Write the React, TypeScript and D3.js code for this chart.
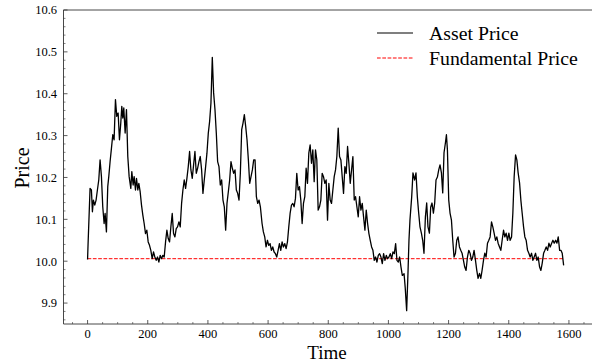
import React from 'react';
import * as d3 from 'd3';

const W = 592;
const H = 364;
const plot = { left: 63.5, right: 593, top: 10, bottom: 324 };

// Simulated market: sampled asset price against time
const time = [
  0, 1.7, 8.3, 12.8, 16.1, 19.4, 23.9, 28.3, 32.7, 37.2, 41.6, 46.1, 50.5, 55, 58.3, 62.7, 67.1, 70.5, 74.9, 79.4,
  83.8, 88.2, 92.7, 97.1, 101.6, 106, 110.4, 113.8, 117.1, 120.4, 124.9, 129.3, 133.7, 138.2, 143.7, 147.1, 151.5,
  154.8, 159.3, 162.6, 167.1, 170.4, 174.8, 179.3, 183.7, 188.1, 192.6, 197, 201.5, 205.9, 210.3, 214.8, 219.2,
  223.7, 228.1, 232.5, 237, 241.4, 245.9, 250.3, 254.7, 259.2, 263.6, 268.1, 272.5, 276.9, 281.4, 285.8, 290.3,
  294.7, 299.1, 303.6, 308, 312.5, 316.9, 321.3, 325.8, 330.2, 334.7, 339.1, 343.5, 348, 352.4, 356.9, 361.3,
  365.7, 370.2, 374.6, 379.1, 383.5, 387.9, 392.4, 396.8, 401.3, 405.7, 410.1, 414.6, 419, 423.5, 427.9, 432.3,
  436.8, 441.2, 445.7, 450.1, 454.5, 459, 463.4, 467.9, 472.3, 476.7, 481.2, 485.6, 490.1, 494.5, 498.9, 503.4,
  507.8, 512.3, 516.7, 521.1, 525.6, 530, 534.5, 538.9, 543.3, 547.8, 552.2, 556.7, 561.1, 565.5, 570, 574.4,
  580, 584.4, 588.9, 593.3, 597.8, 602.2, 606.6, 611.1, 615.5, 620, 624.4, 628.8, 633.3, 637.7, 642.2, 646.6,
  651, 655.5, 659.9, 664.4, 668.8, 673.2, 677.7, 682.1, 686.6, 691, 695.4, 699.9, 704.3, 708.8, 713.2, 717.6,
  722.1, 726.5, 731, 735.4, 739.8, 744.3, 748.7, 753.2, 757.6, 762, 766.5, 770.9, 775.4, 779.8, 784.2, 788.7,
  793.1, 797.6, 802, 806.4, 810.9, 815.3, 819.8, 824.2, 828.6, 833.1, 837.5, 842, 846.4, 850.8, 855.3, 859.7,
  864.2, 868.6, 873, 877.5, 881.9, 886.4, 890.8, 895.2, 899.7, 904.1, 908.6, 913, 917.4, 921.9, 926.3, 930.8,
  935.2, 939.6, 944.1, 948.5, 953, 957.4, 961.8, 966.3, 970.7, 975.2, 979.6, 984, 988.5, 992.9, 997.4, 1001.8,
  1006.2, 1010.7, 1015.1, 1019.6, 1024, 1028.4, 1032.9, 1037.3, 1041.8, 1046.2, 1052, 1056, 1060.6, 1065,
  1068.3, 1071.6, 1077.3, 1081.6, 1087.2, 1091.6, 1096.2, 1100.6, 1104.9, 1109.6, 1113.9, 1118.2, 1122.9,
  1127.2, 1131.5, 1136.2, 1140.5, 1144.9, 1149.5, 1153.8, 1158.2, 1162.8, 1167.2, 1171.5, 1176.2, 1180.5,
  1184.8, 1189.5, 1192.8, 1196.1, 1200.5, 1204.8, 1209.5, 1213.8, 1218.1, 1222.8, 1227.1, 1231.4, 1236.1,
  1240.4, 1244.8, 1249.4, 1253.7, 1258.1, 1262.7, 1267.1, 1271.4, 1276.1, 1280.4, 1284.7, 1289.4, 1293.7,
  1298, 1302.7, 1307, 1311.3, 1316, 1320.3, 1324.7, 1329.3, 1333.7, 1338, 1342.7, 1347, 1351.3, 1356, 1360.3,
  1364.6, 1369.3, 1373.6, 1378, 1382.6, 1386.9, 1391.3, 1395.9, 1400.3, 1404.6, 1409.3, 1413.6, 1417.9,
  1422.6, 1426.9, 1431.2, 1435.9, 1440.2, 1444.5, 1449.2, 1453.5, 1457.8, 1462.5, 1466.8, 1471.1, 1475.8,
  1480.2, 1484.5, 1489.1, 1493.5, 1497.8, 1502.5, 1506.8, 1511.1, 1515.8, 1520.1, 1524.4, 1529.1, 1533.5,
  1537.8, 1542.5, 1546.8, 1551.1, 1555.8, 1560.1, 1564.4, 1569.1, 1573.4, 1577.7, 1582.4,
];

const assetPrice = [
  10.004, 10.042, 10.174, 10.17, 10.118, 10.146, 10.134, 10.146, 10.17, 10.194, 10.242, 10.202, 10.13, 10.09,
  10.114, 10.07, 10.178, 10.202, 10.238, 10.27, 10.302, 10.29, 10.386, 10.346, 10.354, 10.29, 10.33, 10.37,
  10.342, 10.366, 10.306, 10.362, 10.25, 10.202, 10.174, 10.214, 10.182, 10.202, 10.17, 10.198, 10.17, 10.186,
  10.166, 10.134, 10.11, 10.09, 10.066, 10.074, 10.046, 10.038, 10.026, 10.006, 10.022, 10.01, 10.002, 10.01,
  9.998, 10.014, 10.006, 10.014, 10.01, 10.046, 10.074, 10.054, 10.046, 10.082, 10.114, 10.066, 10.058, 10.078,
  10.082, 10.094, 10.082, 10.138, 10.17, 10.194, 10.174, 10.198, 10.226, 10.262, 10.218, 10.198, 10.23, 10.262,
  10.21, 10.222, 10.238, 10.25, 10.218, 10.162, 10.194, 10.226, 10.258, 10.306, 10.334, 10.378, 10.487, 10.402,
  10.362, 10.306, 10.238, 10.226, 10.182, 10.194, 10.146, 10.13, 10.074, 10.138, 10.166, 10.194, 10.238,
  10.222, 10.21, 10.218, 10.17, 10.162, 10.146, 10.21, 10.314, 10.33, 10.35, 10.322, 10.29, 10.242, 10.186,
  10.202, 10.218, 10.242, 10.242, 10.154, 10.138, 10.146, 10.13,
  10.09, 10.07, 10.058, 10.034, 10.05, 10.038, 10.042, 10.026, 10.034, 10.022, 10.018, 10.01, 10.026, 10.042,
  10.026, 10.046, 10.034, 10.042, 10.03, 10.046, 10.082, 10.114, 10.134, 10.138, 10.13, 10.15, 10.21, 10.17,
  10.178, 10.146, 10.09, 10.138, 10.154, 10.222, 10.186, 10.258, 10.278, 10.234, 10.266, 10.19, 10.266, 10.242,
  10.122, 10.13, 10.146, 10.21, 10.202, 10.186, 10.194, 10.098, 10.186, 10.146, 10.138, 10.17, 10.202, 10.218,
  10.25, 10.318, 10.25, 10.242, 10.202, 10.162, 10.226, 10.21, 10.274, 10.234, 10.186, 10.218, 10.25, 10.146,
  10.154, 10.13, 10.106, 10.154, 10.122, 10.138, 10.106, 10.074, 10.122, 10.09, 10.066, 10.05, 10.034, 10.026,
  10.002, 10.01, 9.998, 10.014, 10.018, 10.01, 9.994, 10.018, 10.002, 10.014, 10.006, 10.01, 10.018, 10.006,
  10.022, 10.018, 10.042, 10.002, 9.998, 10.01, 9.986, 9.966, 9.97, 9.935, 9.882, 9.971,
  10.05, 10.098, 10.153, 10.211, 10.194, 10.211, 10.153, 10.115, 10.082, 10.067, 10.05, 10.019, 10.106,
  10.139, 10.082, 10.067, 10.129, 10.139, 10.115, 10.139, 10.194, 10.201, 10.218, 10.23, 10.211, 10.163,
  10.259, 10.283, 10.302, 10.266, 10.146, 10.115, 10.098, 10.05, 10.01, 10.019, 10.05, 10.058, 10.034,
  10.026, 10.019, 10.002, 9.986, 9.978, 10.01, 10.026, 10.019, 10.002, 10.01, 10.026, 10.002, 9.978,
  9.959, 9.971, 9.959, 9.978, 10.002, 10.019, 10.01, 10.043, 10.05, 10.058, 10.094, 10.082, 10.067, 10.05, 10.058,
  10.043, 10.034, 10.026, 10.05, 10.074, 10.058, 10.067, 10.05, 10.067, 10.05, 10.058, 10.115, 10.201,
  10.254, 10.242, 10.211, 10.187, 10.146, 10.115, 10.082, 10.058, 10.05, 10.026, 10.019, 10.01, 10.019,
  10.002, 10.01, 10.019, 10.002, 10.01, 9.986, 9.978, 9.995, 10.019, 10.026, 10.034, 10.026, 10.043,
  10.034, 10.043, 10.05, 10.043, 10.05, 10.043, 10.058, 10.026, 10.026, 10.019, 9.99,
];

const fundamentalPrice = 10.006;
const fundamentalSpan = [0, 1582.4];

const xTicks = [0, 200, 400, 600, 800, 1000, 1200, 1400, 1600];
const yTicks = [9.9, 10.0, 10.1, 10.2, 10.3, 10.4, 10.5, 10.6];
const xMinorTicks = d3.range(-50, 1651, 50).filter((v) => v % 200 !== 0);
const yMinorTicks = d3.range(9.86, 10.6, 0.02).filter((v) => Math.abs(v * 10 - Math.round(v * 10)) > 1e-6);

const legendItems = [
  { label: 'Asset Price', color: '#000000', dash: undefined as string | undefined },
  { label: 'Fundamental Price', color: '#ff0000', dash: '3.7,1.6' },
];

const FONT = '"Liberation Serif", "DejaVu Serif", serif';
const AXIS = '#333333';

export default function App() {
  const x = d3.scaleLinear().domain([-80, 1680]).range([plot.left, plot.right]);
  const y = d3.scaleLinear().domain([9.85, 10.6]).range([plot.bottom, plot.top]);

  const series = time.map((t, i) => [t, assetPrice[i]] as [number, number]);
  const line = d3
    .line<[number, number]>()
    .x((d) => x(d[0]))
    .y((d) => y(d[1]));

  const fmt = d3.format('.1f');

  return (
    <svg
      width={W}
      height={H}
      style={{ position: 'absolute', left: 0, top: 0, background: '#ffffff' }}
      fontFamily={FONT}
    >
      <rect x={0} y={0} width={W} height={H} fill="#ffffff" />
      <defs>
        <clipPath id="plot-area">
          <rect x={plot.left} y={plot.top} width={plot.right - plot.left} height={plot.bottom - plot.top} />
        </clipPath>
      </defs>

      <g clipPath="url(#plot-area)">
        <line
          x1={x(fundamentalSpan[0])}
          x2={x(fundamentalSpan[1])}
          y1={y(fundamentalPrice)}
          y2={y(fundamentalPrice)}
          stroke="#ff0000"
          strokeWidth={1}
          strokeDasharray="3.7,1.6"
        />
        <path d={line(series) ?? ''} fill="none" stroke="#000000" strokeWidth={1.3} strokeLinejoin="round" />
      </g>

      {/* frame */}
      <line x1={plot.left} x2={plot.right} y1={plot.top} y2={plot.top} stroke={AXIS} strokeWidth={0.9} />
      <line x1={plot.left} x2={plot.right} y1={plot.bottom} y2={plot.bottom} stroke={AXIS} strokeWidth={0.9} />
      <line x1={plot.left} x2={plot.left} y1={plot.top} y2={plot.bottom} stroke={AXIS} strokeWidth={0.9} />
      <line x1={plot.right} x2={plot.right} y1={plot.top} y2={plot.bottom} stroke={AXIS} strokeWidth={0.9} />

      {/* x ticks */}
      {xTicks.map((t) => (
        <g key={`xt${t}`}>
          <line x1={x(t)} x2={x(t)} y1={plot.bottom} y2={plot.bottom - 4} stroke={AXIS} strokeWidth={0.8} />
          <text x={x(t)} y={338} textAnchor="middle" fontSize={12.5} fill="#000">
            {t}
          </text>
        </g>
      ))}
      {xMinorTicks.map((t) => (
        <line key={`xm${t}`} x1={x(t)} x2={x(t)} y1={plot.bottom} y2={plot.bottom - 2} stroke={AXIS} strokeWidth={0.6} />
      ))}

      {/* y ticks */}
      {yTicks.map((t) => (
        <g key={`yt${t}`}>
          <line x1={plot.left} x2={plot.left + 4} y1={y(t)} y2={y(t)} stroke={AXIS} strokeWidth={0.8} />
          <text x={57} y={y(t) + 4.3} textAnchor="end" fontSize={12.5} fill="#000">
            {fmt(t)}
          </text>
        </g>
      ))}
      {yMinorTicks.map((t) => (
        <line key={`ym${t}`} x1={plot.left} x2={plot.left + 2} y1={y(t)} y2={y(t)} stroke={AXIS} strokeWidth={0.6} />
      ))}

      {/* axis titles */}
      <text x={327} y={359} textAnchor="middle" fontSize={19} fill="#000">
        Time
      </text>
      <text transform="translate(29,168) rotate(-90)" textAnchor="middle" fontSize={20} fill="#000">
        Price
      </text>

      {/* legend */}
      {legendItems.map((item, i) => (
        <g key={item.label} transform={`translate(0,${33 + i * 25})`}>
          <line
            x1={377}
            x2={413}
            y1={0}
            y2={0}
            stroke={item.color}
            strokeWidth={i === 0 ? 1.2 : 1}
            strokeDasharray={item.dash}
          />
          <text x={429} y={7} fontSize={19.8} fill="#000">
            {item.label}
          </text>
        </g>
      ))}
    </svg>
  );
}
